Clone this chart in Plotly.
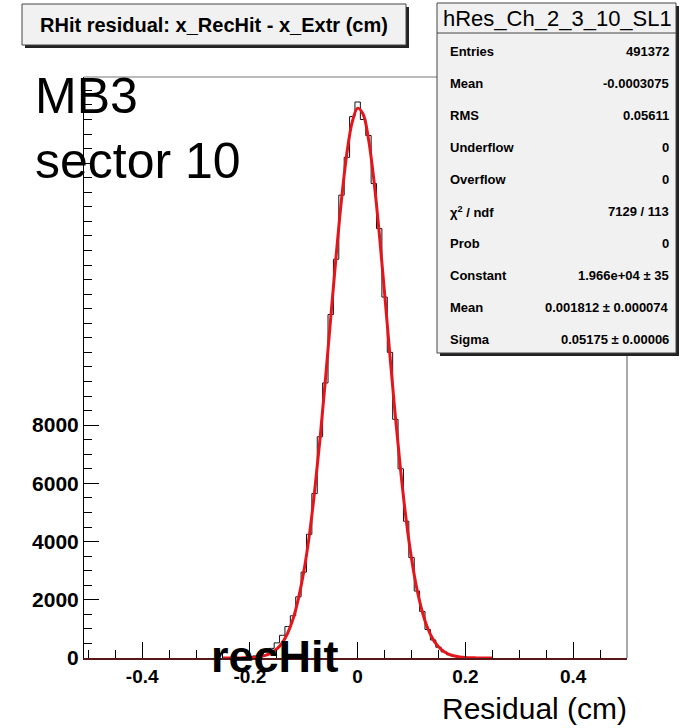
import plotly.graph_objects as go

# Residual distribution, bin centres (cm)
residual_cm = [-0.25, -0.24, -0.23, -0.22, -0.21, -0.20, -0.19, -0.18, -0.17, -0.16,
               -0.15, -0.14, -0.13, -0.12, -0.11, -0.10, -0.09, -0.08, -0.07, -0.06,
               -0.05, -0.04, -0.03, -0.02, -0.01, 0.00, 0.01, 0.02, 0.03, 0.04,
               0.05, 0.06, 0.07, 0.08, 0.09, 0.10, 0.11, 0.12, 0.13, 0.14,
               0.15, 0.16, 0.17, 0.18, 0.19, 0.20, 0.21, 0.22, 0.23, 0.24, 0.25]

# Histogram entries per bin
hist_counts = [0, 0, 5, 10, 20, 40, 70, 120, 200, 330,
               520, 780, 1080, 1450, 2100, 2950, 4250, 5650, 7600, 9450,
               11800, 13700, 15900, 17200, 18600, 19100, 18500, 17950, 16300, 14750,
               12400, 10500, 8200, 6500, 4700, 3450, 2300, 1600, 980, 620,
               370, 210, 110, 60, 30, 12, 5, 0, 0, 0, 0]

# Gaussian fit curve
fit_counts = [0, 0, 2, 3, 6, 13, 27, 52, 98, 177,
              310, 522, 850, 1336, 2040, 2970, 4170, 5710, 7500, 9530,
              11680, 13810, 15740, 17340, 18420, 18890, 18690, 17840, 16440, 14610,
              12530, 10380, 8300, 6400, 4760, 3420, 2370, 1590, 1020, 640,
              385, 224, 125, 68, 35, 17, 8, 4, 2, 1, 0]

x_tick_vals = [-0.4, -0.2, 0, 0.2, 0.4]
x_tick_text = ["-0.4", "-0.2", "0", "0.2", "0.4"]
y_tick_vals = [0, 2000, 4000, 6000, 8000]
y_tick_text = ["0", "2000", "4000", "6000", "8000"]
y_upper_ticks = [10000, 12000, 14000, 16000, 18000]

stats_title = "hRes_Ch_2_3_10_SL1"
stats_labels = ["Entries", "Mean", "RMS", "Underflow", "Overflow",
                "χ<sup>2</sup> / ndf", "Prob", "Constant", "Mean", "Sigma"]
stats_values = ["491372", "-0.0003075", "0.05611", "0", "0",
                "7129 / 113", "0", "1.966e+04 ± 35", "0.001812 ± 0.000074",
                "0.05175 ± 0.00006"]

W, H = 680, 728
L, R, T, B = 84, 627, 77, 658
PW, PH = R - L, B - T
Y_RANGE = [0, 19960]


def px(x):
    return (x - L) / PW


def py(y):
    return (B - y) / PH


FONT = "Liberation Sans, Arial, sans-serif"

fig = go.Figure()
fig.add_trace(go.Scatter(x=residual_cm, y=hist_counts, mode="lines",
                         line=dict(color="#111111", width=1, shape="hvh"),
                         hoverinfo="skip", showlegend=False))
fig.add_trace(go.Scatter(x=residual_cm, y=fit_counts, mode="lines",
                         line=dict(color="#e5161b", width=3, shape="spline"),
                         hoverinfo="skip", showlegend=False))

shapes = []
annotations = []

# plot frame: top and right edges
shapes.append(dict(type="line", xref="paper", yref="paper", x0=0, x1=1, y0=1, y1=1,
                   line=dict(color="#777777", width=1), layer="below"))
shapes.append(dict(type="line", xref="paper", yref="paper", x0=1, x1=1, y0=0, y1=1,
                   line=dict(color="#555555", width=1), layer="below"))


def box(x0, y0, x1, y1):
    # drop shadow, then the box itself
    shapes.append(dict(type="rect", xref="paper", yref="paper",
                       x0=px(x0 + 3), x1=px(x1 + 3), y0=py(y1 + 3), y1=py(y0 + 3),
                       fillcolor="#222222", line=dict(width=0), layer="above"))
    shapes.append(dict(type="rect", xref="paper", yref="paper",
                       x0=px(x0), x1=px(x1), y0=py(y1), y1=py(y0),
                       fillcolor="#f1f1f1", line=dict(color="#444444", width=1),
                       layer="above"))


# title box
box(22, 4, 406, 45)
annotations.append(dict(text="RHit residual: x_RecHit - x_Extr (cm)", xref="paper", yref="paper",
                        x=px(214), y=py(25), xanchor="center", yanchor="middle", showarrow=False,
                        font=dict(family=FONT, size=20, color="black", weight="bold")))

# statistics box
box(437, 3, 676, 353)
shapes.append(dict(type="line", xref="paper", yref="paper", x0=px(437), x1=px(676),
                   y0=py(33), y1=py(33), line=dict(color="#444444", width=1), layer="above"))
annotations.append(dict(text=stats_title, xref="paper", yref="paper",
                        x=px(557), y=py(18), xanchor="center", yanchor="middle", showarrow=False,
                        font=dict(family=FONT, size=22, color="black")))
for i, (lab, val) in enumerate(zip(stats_labels, stats_values)):
    yy = 51 + i * 32.1
    annotations.append(dict(text=lab, xref="paper", yref="paper", x=px(448), y=py(yy),
                            xanchor="left", yanchor="middle", showarrow=False,
                            font=dict(family=FONT, size=13, color="black", weight="bold")))
    annotations.append(dict(text=val, xref="paper", yref="paper", x=px(671), y=py(yy),
                            xanchor="right", yanchor="middle", showarrow=False,
                            font=dict(family=FONT, size=13, color="black", weight="bold")))

# overlay labels
annotations.append(dict(text="MB3<br>sector 10", xref="paper", yref="paper",
                        x=px(33), y=py(66), xanchor="left", yanchor="top", showarrow=False,
                        align="left",
                        font=dict(family=FONT, size=50, color="black")))
annotations.append(dict(text="recHit", xref="paper", yref="paper",
                        x=px(275), y=py(656), xanchor="center", yanchor="middle", showarrow=False,
                        font=dict(family=FONT, size=45, color="black", weight="bold")))
annotations.append(dict(text="Residual (cm)", xref="paper", yref="paper",
                        x=px(629), y=py(708), xanchor="right", yanchor="middle", showarrow=False,
                        font=dict(family=FONT, size=30, color="black")))

fig.update_layout(
    width=W, height=H,
    margin=dict(l=L, r=W - R, t=T, b=H - B, pad=0),
    paper_bgcolor="white", plot_bgcolor="white",
    shapes=shapes, annotations=annotations,
    xaxis=dict(range=[-0.508, 0.5], tickvals=x_tick_vals, ticktext=x_tick_text,
               ticks="inside", ticklen=16, tickwidth=1, tickcolor="black",
               showline=True, linecolor="#5a1818", linewidth=2, mirror=False,
               showgrid=False, zeroline=False,
               minor=dict(dtick=0.05, tick0=0, ticks="inside", ticklen=8,
                          tickcolor="black", showgrid=False),
               tickfont=dict(family=FONT, size=19, color="black", weight="bold")),
    yaxis=dict(range=Y_RANGE, tickvals=y_tick_vals, ticktext=y_tick_text,
               ticks="inside", ticklen=15, tickwidth=1, tickcolor="black",
               showline=True, linecolor="black", linewidth=1, mirror=False,
               showgrid=False, zeroline=False,
               minor=dict(dtick=500, tick0=0, ticks="inside", ticklen=8,
                          tickcolor="black", showgrid=False),
               tickfont=dict(family=FONT, size=21, color="black", weight="bold")),
    # unlabelled major ticks on the upper part of the y axis
    yaxis2=dict(range=Y_RANGE, overlaying="y", side="left", anchor="x",
                tickvals=y_upper_ticks, showticklabels=False,
                ticks="inside", ticklen=15, tickwidth=1, tickcolor="#444444",
                showline=False, showgrid=False, zeroline=False),
)

fig.write_html("out.html")
